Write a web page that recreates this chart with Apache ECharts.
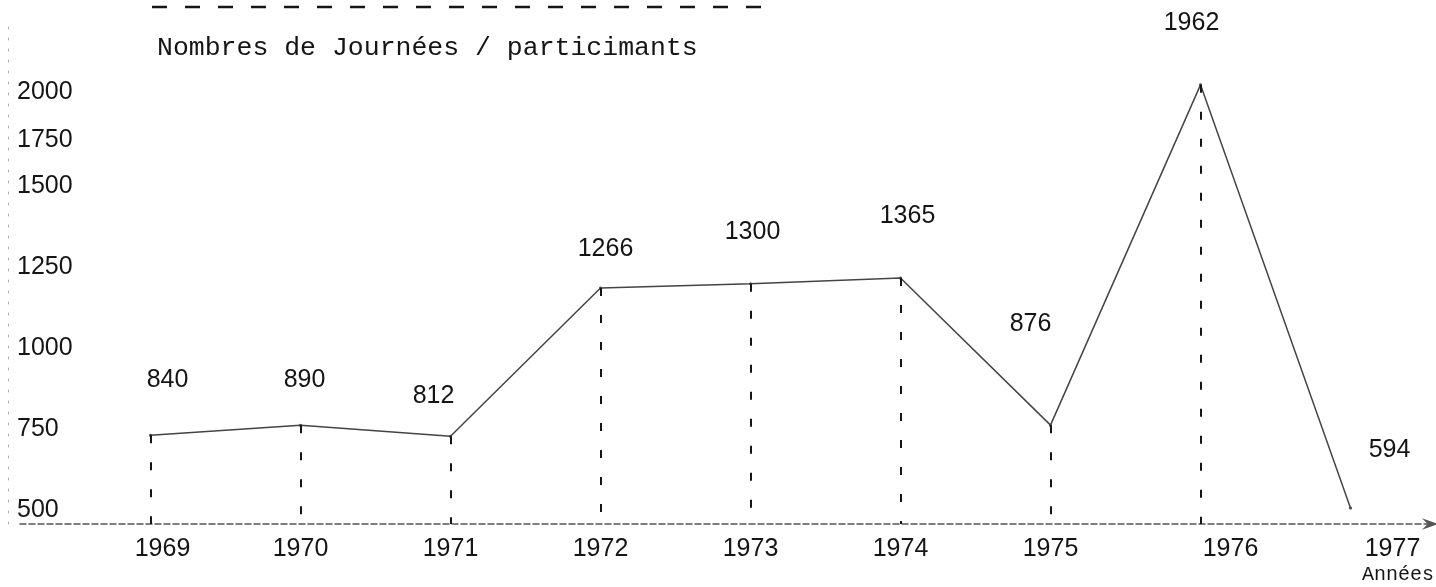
<!DOCTYPE html>
<html lang="fr">

<head>
    <meta charset="UTF-8" />
    <title>Nombres de Journées / participants</title>
    <script src="https://cdn.jsdelivr.net/npm/echarts@6/dist/echarts.min.js"></script>
    <style>
        html, body { margin: 0; padding: 0; background: #fff; }
    </style>
</head>

<body>
    <div id="main" style="width: 1436px; height: 587px"></div>
    <script type="text/javascript">
        // data
        const years = [1969, 1970, 1971, 1972, 1973, 1974, 1975, 1976, 1977];
        // where the hand drawn line actually sits (read against the lower scale)
        const plotted = [731, 762, 728, 1185, 1198, 1216, 762, 1812, 506];
        // the numbers written above each point
        const annotated = [840, 890, 812, 1266, 1300, 1365, 876, 1962, 594];
        // y tick labels: the lower ones are evenly spaced, the top two are squeezed
        const lowerTicks = [500, 750, 1000, 1250, 1500];
        const upperTicks = [1750, 2000];

        // layout nudges for the hand placed text (pixels)
        const labelShift = [[17, -41], [4, -31], [-17, -26], [5, -25], [2, -38], [7, -48], [-20, -87], [-9, -48], [39, -44]];
        const yearShift = { 1969: 12, 1976: 30, 1977: 42 };

        const sans = 'Liberation Sans';
        const mono = 'Liberation Mono';
        const ink = '#151515';
        const yMin = 457, yMax = 2012;

        let yearRich = {};
        for (let y of years) {
            let s = yearShift[y] || 0;
            yearRich['y' + y] = { fontFamily: sans, fontSize: 25, color: ink, padding: s > 0 ? [0, 0, 0, 2 * s] : 0 };
        }

        let seriesData = plotted.map((v, i) => ({
            value: [years[i], v],
            label: { offset: labelShift[i] }
        }));

        // dashed drops from each point to the axis
        let drops = [];
        for (let i = 0; i < years.length - 1; i++) {
            drops.push([{ coord: [years[i], plotted[i]] }, { coord: [years[i], yMin] }]);
        }

        let yLabel = {
            align: 'left',
            margin: -9,
            fontFamily: sans,
            fontSize: 25,
            color: ink,
            formatter: (v) => String(v)
        };

        let options = {
            animation: false,
            title: {
                text: 'Nombres de Journées / particimants',
                left: 152,
                top: 29,
                textStyle: { fontFamily: mono, fontSize: 26.5, fontWeight: 'normal', color: ink }
            },
            graphic: [
                {
                    type: 'line',
                    shape: { x1: 152, y1: 7, x2: 772, y2: 7 },
                    style: { stroke: ink, lineWidth: 2.5, lineDash: [15, 18] }
                },
                {
                    type: 'text',
                    left: 1362,
                    top: 565,
                    style: { text: 'Années', font: '20px "Liberation Mono"', fill: ink }
                }
            ],
            grid: { left: 20, right: 6, top: 20, bottom: 63 },
            xAxis: {
                type: 'value',
                min: 1968.13,
                max: 1977.53,
                splitLine: { show: false },
                axisTick: { show: false },
                axisLine: {
                    show: true,
                    onZero: false,
                    symbol: ['none', 'path://M5,0 L10,14 L5,9 L0,14 Z'],
                    symbolSize: [14, 16],
                    lineStyle: { color: '#555', width: 1.5, type: [6, 3] }
                },
                axisLabel: {
                    customValues: years,
                    margin: 13,
                    formatter: (v) => '{y' + v + '|' + v + '}',
                    rich: yearRich
                }
            },
            yAxis: [
                {
                    type: 'value',
                    min: yMin,
                    max: yMax,
                    offset: 12,
                    splitLine: { show: false },
                    axisTick: { show: false },
                    axisLine: { show: true, onZero: false, lineStyle: { color: '#aaa', width: 1, type: [2, 9] } },
                    axisLabel: Object.assign({ customValues: lowerTicks }, yLabel)
                },
                {
                    // second scale only to carry the two compressed top labels
                    type: 'value',
                    position: 'left',
                    min: -250,
                    max: 2375,
                    offset: 12,
                    splitLine: { show: false },
                    axisTick: { show: false },
                    axisLine: { show: false, onZero: false },
                    axisLabel: Object.assign({ customValues: upperTicks }, yLabel)
                }
            ],
            series: [
                {
                    name: 'Journées / participants',
                    type: 'line',
                    yAxisIndex: 0,
                    data: seriesData,
                    symbol: 'circle',
                    symbolSize: 3,
                    itemStyle: { color: '#444' },
                    lineStyle: { color: '#444', width: 1.5 },
                    label: {
                        show: true,
                        position: 'top',
                        distance: 0,
                        fontFamily: sans,
                        fontSize: 25,
                        color: ink,
                        formatter: (p) => String(annotated[p.dataIndex])
                    },
                    markLine: {
                        silent: true,
                        symbol: ['none', 'none'],
                        label: { show: false },
                        lineStyle: { color: ink, width: 2, type: [8, 19] },
                        data: drops
                    }
                }
            ]
        };

        let myChart = echarts.init(document.getElementById('main'));
        myChart.setOption(options);
    </script>
</body>

</html>
